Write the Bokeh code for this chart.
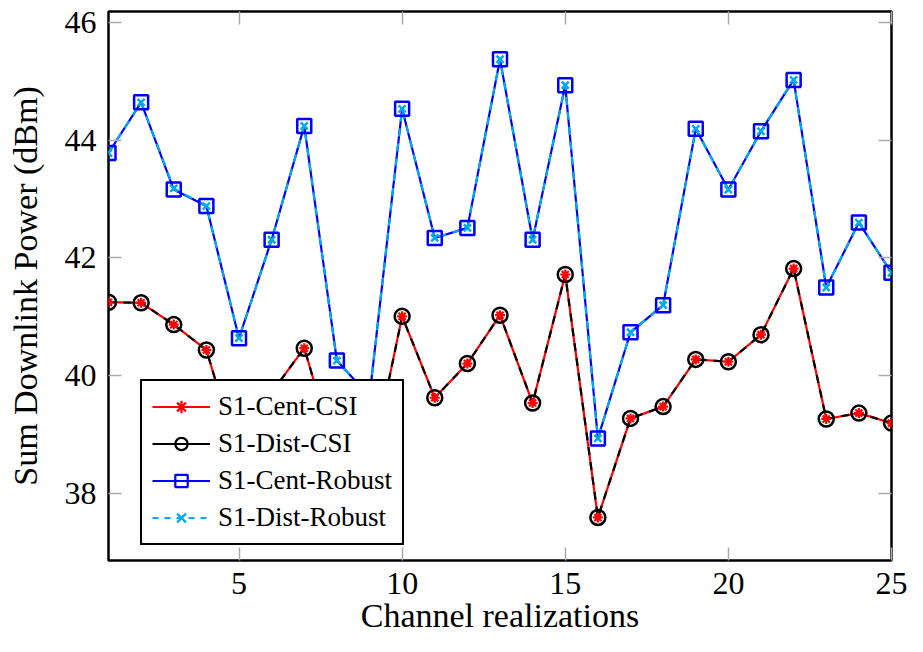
from bokeh.plotting import figure
from bokeh.models import LinearAxis, FixedTicker, Range1d, Legend, LegendItem, ColumnDataSource
from bokeh.embed import file_html
from bokeh.resources import INLINE

# ---------------- data ----------------
realization = list(range(1, 26))
cent_csi = [41.25, 41.24, 40.87, 40.44, 38.60, 39.72, 40.47, 38.60, 38.35, 41.01,
            39.63, 40.21, 41.03, 39.54, 41.72, 37.60, 39.28, 39.48, 40.28, 40.24,
            40.70, 41.82, 39.27, 39.37, 39.20]
dist_csi = [41.25, 41.24, 40.87, 40.44, 38.60, 39.72, 40.47, 38.60, 38.35, 41.01,
            39.63, 40.21, 41.03, 39.54, 41.72, 37.60, 39.28, 39.48, 40.28, 40.24,
            40.70, 41.82, 39.27, 39.37, 39.20]
cent_robust = [43.78, 44.64, 43.16, 42.88, 40.64, 42.31, 44.24, 40.26, 39.65, 44.53,
               42.34, 42.51, 45.37, 42.31, 44.93, 38.94, 40.74, 41.20, 44.19, 43.16,
               44.15, 45.02, 41.50, 42.60, 41.75]
dist_robust = [43.78, 44.64, 43.18, 42.88, 40.64, 42.31, 44.24, 40.26, 39.65, 44.53,
               42.34, 42.51, 45.37, 42.31, 44.93, 38.94, 40.74, 41.20, 44.19, 43.16,
               44.15, 45.02, 41.50, 42.60, 41.75]
x_ticks = [5, 10, 15, 20, 25]
y_ticks = [38, 40, 42, 44, 46]
labels = ["S1-Cent-CSI", "S1-Dist-CSI", "S1-Cent-Robust", "S1-Dist-Robust"]

FONT = "Liberation Serif"
RED = "#ff0000"
BLACK = "#000000"
BLUE = "#0000ff"
CYAN = "#00aaee"
TICK = "#aaaaaa"

src = ColumnDataSource(dict(x=realization, cc=cent_csi, dc=dist_csi,
                            cr=cent_robust, dr=dist_robust))

p = figure(width=907, height=636, output_backend="svg", toolbar_location=None,
           x_range=Range1d(1, 25), y_range=Range1d(36.87, 46.18),
           min_border_left=108, min_border_right=16, min_border_top=11,
           min_border_bottom=76)
p.xgrid.visible = False
p.ygrid.visible = False
p.outline_line_color = "black"
p.outline_line_width = 2.5
p.outline_line_alpha = 1
p.background_fill_color = "white"

for ax, ticks in ((p.xaxis[0], x_ticks), (p.yaxis[0], y_ticks)):
    ax.ticker = FixedTicker(ticks=ticks)
    ax.axis_line_color = None
    ax.major_tick_in = 13
    ax.major_tick_out = 0
    ax.major_tick_line_color = TICK
    ax.major_tick_line_width = 1.5
    ax.minor_tick_line_color = None
    ax.major_label_text_font = FONT
    ax.major_label_text_font_size = "32px"
    ax.major_label_text_color = "black"
    ax.axis_label_text_font = FONT
    ax.axis_label_text_font_size = "34px"
    ax.axis_label_text_font_style = "normal"
    ax.axis_label_text_color = "black"

p.xaxis[0].axis_label = "Channel realizations"
p.yaxis[0].axis_label = "Sum Downlink Power (dBm)"
p.xaxis[0].major_label_standoff = 12
p.xaxis[0].axis_label_standoff = 0
p.yaxis[0].major_label_standoff = 12
p.yaxis[0].axis_label_standoff = 18

# mirrored ticks on top and right (no labels)
for loc, ticks in (("above", x_ticks), ("right", y_ticks)):
    ax = LinearAxis(ticker=FixedTicker(ticks=ticks))
    ax.axis_line_color = None
    ax.major_tick_in = 13
    ax.major_tick_out = 0
    ax.major_tick_line_color = TICK
    ax.major_tick_line_width = 1.5
    ax.minor_tick_line_color = None
    ax.major_label_text_color = None
    ax.major_label_text_font_size = "1px"
    ax.major_label_standoff = 0
    p.add_layout(ax, loc)

# ---- plotted series ----
p.line("x", "cc", source=src, line_color=RED, line_width=2.2)
p.line("x", "dc", source=src, line_color=BLACK, line_width=2.2, line_dash="8 7")
p.scatter("x", "dc", source=src, marker="circle", size=15, fill_color=None,
          line_color=BLACK, line_width=2.5)
p.scatter("x", "cc", source=src, marker="asterisk", size=10, line_color=RED,
          line_width=2.2)

p.line("x", "cr", source=src, line_color=BLUE, line_width=2.2)
p.line("x", "dr", source=src, line_color=CYAN, line_width=2.2, line_dash="8 7")
p.scatter("x", "cr", source=src, marker="square", size=14, fill_color=None,
          line_color=BLUE, line_width=2.5)
p.scatter("x", "dr", source=src, marker="x", size=10, line_color=CYAN,
          line_width=2.5)

# ---- legend proxies (solid lines, as in the key); their data lie off-frame ----
proxy = ColumnDataSource(dict(x=[-100, -99], y=[0, 0]))
styles = [(RED, "solid", "asterisk"),
          (BLACK, "solid", "circle"),
          (BLUE, "solid", "square"),
          (CYAN, "6 6", "x")]
items = []
for lab, (col, dash, mk) in zip(labels, styles):
    lr = p.line("x", "y", source=proxy, line_color=col, line_width=2.2, line_dash=dash)
    sr = p.scatter("x", "y", source=proxy, marker=mk, size=12, fill_color=None,
                   line_color=col, line_width=2.2)
    items.append(LegendItem(label=lab, renderers=[lr, sr]))

legend = Legend(items=items, location=(32, 15))
legend.label_text_font = FONT
legend.label_text_font_size = "27px"
legend.label_text_color = "black"
legend.glyph_width = 58
legend.glyph_height = 31
legend.label_height = 31
legend.spacing = 6
legend.padding = 10
legend.margin = 0
legend.label_standoff = 8
legend.border_line_color = "black"
legend.border_line_width = 2.5
legend.border_line_alpha = 1
legend.background_fill_color = "white"
legend.background_fill_alpha = 1
p.add_layout(legend, "center")

open("out.html", "w").write(file_html(p, INLINE))
